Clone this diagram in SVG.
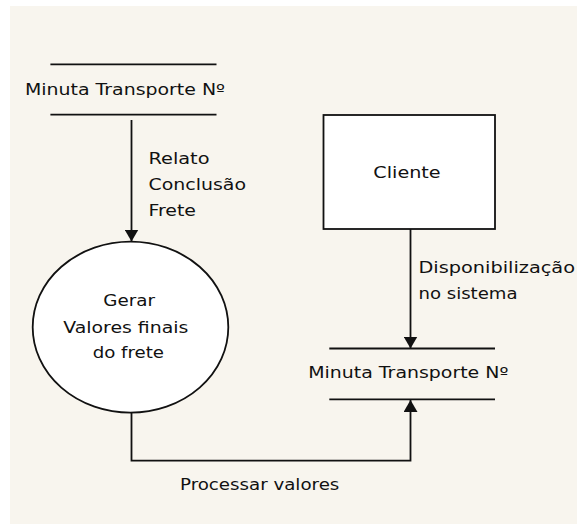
<svg xmlns="http://www.w3.org/2000/svg" width="577" height="524" viewBox="0 0 577 524">
  <style>
    .t { font-family: "DejaVu Sans", Verdana, sans-serif; font-size: 16px; fill: #111; }
    .c { text-anchor: middle; }
    .ln { stroke: #111; stroke-width: 1.8; fill: none; }
    .shape { fill: #fff; stroke: #111; stroke-width: 1.8; }
  </style>
  <defs>
    <marker id="arr" viewBox="0 0 12 14" refX="12" refY="7" markerWidth="12" markerHeight="14" markerUnits="userSpaceOnUse" orient="auto">
      <path d="M0,0 L12,7 L0,14 z" fill="#111"/>
    </marker>
  </defs>
  <rect x="0" y="0" width="577" height="524" fill="#fff"/>
  <rect x="10" y="6" width="567" height="518" fill="#f8f5ee"/>

  <g id="connectors">
    <path class="ln" d="M131.5 120 V241.5" marker-end="url(#arr)"/>
    <path class="ln" d="M410.5 229 V348.5" marker-end="url(#arr)"/>
    <path class="ln" d="M131.5 412.5 V460.7 H410.5 V400" marker-end="url(#arr)"/>
    <text class="t" x="148.5" y="164" textLength="61" lengthAdjust="spacingAndGlyphs">Relato</text>
    <text class="t" x="148.5" y="190" textLength="97.5" lengthAdjust="spacingAndGlyphs">Conclusão</text>
    <text class="t" x="148.5" y="216" textLength="47.5" lengthAdjust="spacingAndGlyphs">Frete</text>
    <text class="t" x="418.5" y="273" textLength="156.5" lengthAdjust="spacingAndGlyphs">Disponibilização</text>
    <text class="t" x="418.5" y="299" textLength="99" lengthAdjust="spacingAndGlyphs">no sistema</text>
    <text class="t" x="180" y="490" textLength="159.3" lengthAdjust="spacingAndGlyphs">Processar valores</text>
  </g>

  <g id="store-top">
    <line class="ln" x1="50.4" y1="64.3" x2="216.5" y2="64.3"/>
    <line class="ln" x1="50.4" y1="114.7" x2="216.5" y2="114.7"/>
    <text class="t" x="25" y="94.5" textLength="200" lengthAdjust="spacingAndGlyphs">Minuta Transporte Nº</text>
  </g>

  <g id="process-gerar">
    <ellipse class="shape" cx="130.5" cy="327.2" rx="97.8" ry="85.5"/>
    <text class="t c" x="129.2" y="306" textLength="51.7" lengthAdjust="spacingAndGlyphs">Gerar</text>
    <text class="t c" x="125.8" y="332.5" textLength="125" lengthAdjust="spacingAndGlyphs">Valores finais</text>
    <text class="t c" x="128.3" y="357.5" textLength="71.3" lengthAdjust="spacingAndGlyphs">do frete</text>
  </g>

  <g id="entity-cliente">
    <rect class="shape" x="323.5" y="115" width="171.5" height="114" stroke-width="2"/>
    <text class="t c" x="407" y="177.5" textLength="67.3" lengthAdjust="spacingAndGlyphs">Cliente</text>
  </g>

  <g id="store-bottom">
    <line class="ln" x1="329.3" y1="348.5" x2="495" y2="348.5"/>
    <line class="ln" x1="329.3" y1="399.3" x2="495" y2="399.3"/>
    <text class="t" x="308.3" y="378" textLength="200" lengthAdjust="spacingAndGlyphs">Minuta Transporte Nº</text>
  </g>
</svg>
